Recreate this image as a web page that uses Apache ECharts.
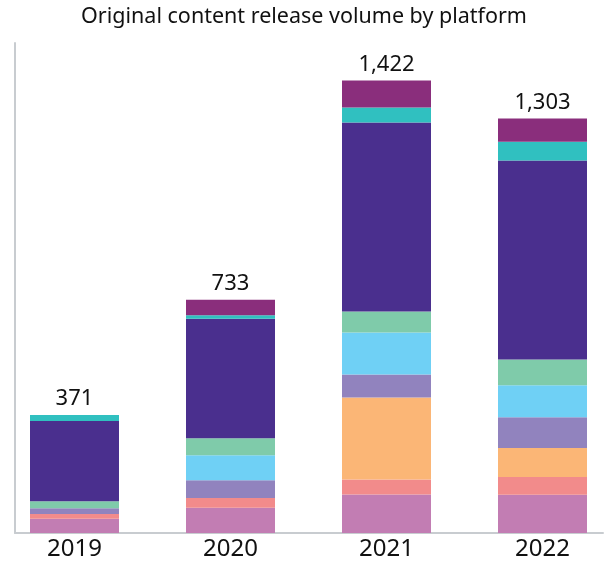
<!DOCTYPE html>
<html>
<head>
<meta charset="utf-8">
<script src="https://cdn.jsdelivr.net/npm/echarts@6/dist/echarts.min.js"></script>
<style>html,body{margin:0;padding:0;background:#fff}#c{width:608px;height:562px}</style>
</head>
<body>
<div id="c"></div>
<script>
const years = ['2019', '2020', '2021', '2022'];
const totals = [371, 733, 1422, 1303];
const seriesNames = ['Platform 1', 'Platform 2', 'Platform 3', 'Platform 4', 'Platform 5', 'Platform 6', 'Platform 7', 'Platform 8', 'Platform 9'];
const pinkVals = [45, 79, 121, 120];
const salmonVals = [15, 31, 47, 56];
const orangeVals = [0, 0, 258, 91];
const lavenderVals = [18, 56, 72, 97];
const lightBlueVals = [0, 78, 132, 100];
const greenVals = [22, 54, 66, 81];
const purpleVals = [252, 375, 594, 626];
const tealVals = [19, 11, 47, 59];
const magentaVals = [0, 49, 85, 73];
const colors = ['#c27db3', '#f28b8b', '#fbb676', '#9183be', '#6fd0f5', '#7fcbaa', '#4a2f8e', '#30c0c0', '#8a2e7c'];
const stackData = [pinkVals, salmonVals, orangeVals, lavenderVals, lightBlueVals, greenVals, purpleVals, tealVals, magentaVals];

const FONT = 'Noto Sans';
const chart = echarts.init(document.getElementById('c'), null, {renderer: 'canvas'});

const series = stackData.map((d, i) => ({
  name: seriesNames[i],
  type: 'bar',
  stack: 'total',
  xAxisIndex: 1,
  yAxisIndex: 1,
  barWidth: 89,
  data: d,
  itemStyle: {color: colors[i]},
  emphasis: {disabled: true}
}));
series.push({
  name: 'Total',
  type: 'scatter',
  xAxisIndex: 1,
  yAxisIndex: 1,
  symbolSize: 0,
  data: totals,
  itemStyle: {opacity: 1},
  label: {
    show: true,
    position: 'top',
    distance: 5,
    opacity: 1,
    formatter: p => p.value.toLocaleString('en-US'),
    fontFamily: FONT,
    fontSize: 22,
    color: '#111111'
  },
  emphasis: {disabled: true}
});

chart.setOption({
  animation: false,
  backgroundColor: '#ffffff',
  title: {
    text: 'Original content release volume by platform',
    left: 'center',
    top: 1,
    textStyle: {fontFamily: FONT, fontSize: 21.5, fontWeight: 'normal', color: '#111111'}
  },
  grid: [
    {left: 15, right: 5, top: 43, bottom: 29, outerBoundsMode: 'none'},
    {left: -3.5, width: 624, top: 43, bottom: 29, outerBoundsMode: 'none'}
  ],
  xAxis: [
    {type: 'category', gridIndex: 0, data: years,
     axisLine: {show: true, lineStyle: {color: '#c8ccd0', width: 2}},
     axisTick: {show: false}, axisLabel: {show: false}},
    {type: 'category', gridIndex: 1, data: years,
     axisLine: {show: false}, axisTick: {show: false},
     axisLabel: {fontFamily: FONT, fontSize: 24, color: '#111111', margin: 4}}
  ],
  yAxis: [
    {type: 'value', gridIndex: 0, min: 0, max: 1540,
     axisLine: {show: true, lineStyle: {color: '#c8ccd0', width: 2}},
     axisTick: {show: false}, axisLabel: {show: false}, splitLine: {show: false}},
    {type: 'value', gridIndex: 1, min: 0, max: 1540,
     axisLine: {show: false}, axisTick: {show: false}, axisLabel: {show: false}, splitLine: {show: false}}
  ],
  series: series
});
</script>
</body>
</html>
